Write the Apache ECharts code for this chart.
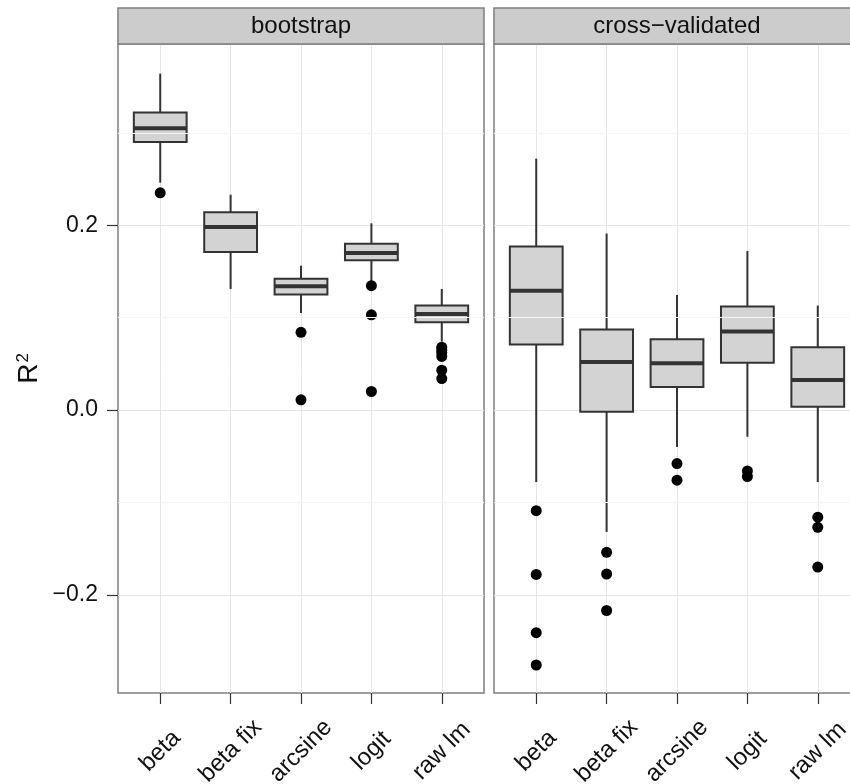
<!DOCTYPE html>
<html>
<head>
<meta charset="utf-8">
<script src="https://cdn.jsdelivr.net/npm/echarts@6/dist/echarts.min.js"></script>
<style>
html,body{margin:0;padding:0;background:#fff;}
#chart{width:850px;height:784px;}
</style>
</head>
<body>
<div id="chart"></div>
<script>
// ---- data ----
const categories = ['beta', 'beta fix', 'arcsine', 'logit', 'raw lm'];
const panelTitles = ['bootstrap', 'cross\u2212validated'];
const yTicks = [-0.2, 0.0, 0.2];
const yMinorTicks = [-0.1, 0.1, 0.3];

// [lower whisker, Q1, median, Q3, upper whisker] per category
const bootstrapStats = [
  [0.246, 0.290, 0.305, 0.322, 0.364],
  [0.131, 0.171, 0.198, 0.214, 0.233],
  [0.105, 0.125, 0.134, 0.142, 0.156],
  [0.139, 0.162, 0.170, 0.180, 0.202],
  [0.074, 0.095, 0.104, 0.113, 0.131]
];
const crossValStats = [
  [-0.078, 0.071, 0.129, 0.177, 0.272],
  [-0.132, -0.002, 0.052, 0.087, 0.191],
  [-0.040, 0.025, 0.0505, 0.0765, 0.1245],
  [-0.029, 0.051, 0.085, 0.112, 0.172],
  [-0.078, 0.0036, 0.0325, 0.068, 0.113]
];
// outliers: [category index, value]
const bootstrapOutliers = [
  [0, 0.235],
  [2, 0.084], [2, 0.011],
  [3, 0.1345], [3, 0.103], [3, 0.020],
  [4, 0.068], [4, 0.065], [4, 0.062], [4, 0.058], [4, 0.043], [4, 0.034]
];
const crossValOutliers = [
  [0, -0.109], [0, -0.178], [0, -0.241], [0, -0.276],
  [1, -0.154], [1, -0.1775], [1, -0.217],
  [2, -0.058], [2, -0.076],
  [3, -0.066], [3, -0.072],
  [4, -0.116], [4, -0.127], [4, -0.170]
];

// ---- chart ----
const FONT = 'Liberation Sans, Arial, sans-serif';
const chart = echarts.init(document.getElementById('chart'));

const gridTop = 44, gridH = 649, gridW = 366;
const gridLefts = [118, 494];

function fmtY(v) {
  const s = (Math.abs(v) < 1e-9 ? 0 : v).toFixed(1);
  return s.replace('-', '\u2212');
}

function makeX(i) {
  return {
    type: 'value', gridIndex: i, min: -0.6, max: 4.6,
    axisLine: { show: false, onZero: false },
    axisTick: { show: true, length: 11, lineStyle: { color: '#333', width: 1.2 }, customValues: [0, 1, 2, 3, 4] },
    axisLabel: {
      customValues: [0, 1, 2, 3, 4],
      formatter: v => categories[Math.round(v)],
      rotate: 45, margin: 58, fontSize: 24, color: '#111', fontFamily: FONT,
      align: 'center', verticalAlign: 'middle'
    },
    splitLine: { show: true, lineStyle: { color: '#e5e5e5', width: 1 } }
  };
}
function makeY(i) {
  return {
    type: 'value', gridIndex: i, min: -0.3063, max: 0.3961,
    axisLine: { show: false, onZero: false },
    axisTick: { show: i === 0, length: 11, lineStyle: { color: '#333', width: 1.2 }, customValues: yTicks },
    axisLabel: {
      show: i === 0, customValues: yTicks, formatter: fmtY,
      margin: 20, fontSize: 23, color: '#111', fontFamily: FONT
    },
    splitLine: { show: true, lineStyle: { color: '#e5e5e5', width: 1 } },
    name: i === 0 ? '{r|R}{s|2}' : '',
    nameLocation: 'middle', nameRotate: 90, nameGap: 75,
    nameTextStyle: {
      rich: {
        r: { fontSize: 28, color: '#111', fontFamily: FONT, verticalAlign: 'bottom' },
        s: { fontSize: 17, color: '#111', fontFamily: FONT, verticalAlign: 'top', padding: [0, 0, 0, 1] }
      }
    }
  };
}

function boxRender(params, api) {
  const x = api.value(0);
  const lo = api.coord([x, api.value(1)]);
  const q1 = api.coord([x, api.value(2)]);
  const md = api.coord([x, api.value(3)]);
  const q3 = api.coord([x, api.value(4)]);
  const hi = api.coord([x, api.value(5)]);
  const hw = api.size([0.75, 0])[0] / 2;
  const stroke = '#333333';
  return {
    type: 'group',
    children: [
      { type: 'line', shape: { x1: hi[0], y1: hi[1], x2: q3[0], y2: q3[1] }, style: { stroke: stroke, lineWidth: 2 } },
      { type: 'line', shape: { x1: q1[0], y1: q1[1], x2: lo[0], y2: lo[1] }, style: { stroke: stroke, lineWidth: 2 } },
      { type: 'rect', shape: { x: q3[0] - hw, y: q3[1], width: 2 * hw, height: q1[1] - q3[1] },
        style: { fill: '#d3d3d3', stroke: stroke, lineWidth: 2 } },
      { type: 'line', shape: { x1: md[0] - hw, y1: md[1], x2: md[0] + hw, y2: md[1] }, style: { stroke: stroke, lineWidth: 4 } }
    ]
  };
}

const statsByPanel = [bootstrapStats, crossValStats];
const outByPanel = [bootstrapOutliers, crossValOutliers];

const series = [];
[0, 1].forEach(i => {
  series.push({
    type: 'line', xAxisIndex: i, yAxisIndex: i, data: [[0, 0]], showSymbol: false,
    lineStyle: { opacity: 0 }, silent: true, z: 1,
    markLine: {
      silent: true, symbol: 'none', label: { show: false },
      lineStyle: { color: '#f5f5f5', width: 1, type: 'solid' },
      data: yMinorTicks.map(v => ({ yAxis: v }))
    }
  });
  series.push({
    type: 'custom', xAxisIndex: i, yAxisIndex: i, z: 3,
    renderItem: boxRender,
    encode: { x: 0, y: [1, 2, 3, 4, 5] },
    data: statsByPanel[i].map((s, k) => [k].concat(s))
  });
  series.push({
    type: 'scatter', xAxisIndex: i, yAxisIndex: i, z: 4,
    symbolSize: 11, itemStyle: { color: '#000', opacity: 1 },
    data: outByPanel[i]
  });
});

const graphics = [];
gridLefts.forEach((l, i) => {
  graphics.push({
    type: 'rect', shape: { x: l, y: 8, width: gridW, height: 36 },
    style: { fill: '#cccccc', stroke: '#7f7f7f', lineWidth: 1.5 }, z: 10
  });
  graphics.push({
    type: 'text', x: l + gridW / 2, y: 26,
    style: { text: panelTitles[i], fontSize: 24, fontFamily: FONT, fill: '#111', align: 'center', verticalAlign: 'middle' },
    z: 11
  });
});

chart.setOption({
  backgroundColor: '#ffffff',
  animation: false,
  grid: gridLefts.map(l => ({
    left: l, top: gridTop, width: gridW, height: gridH,
    outerBoundsMode: 'none', containLabel: false,
    show: true, borderColor: '#7f7f7f', borderWidth: 1.5, backgroundColor: '#ffffff'
  })),
  xAxis: [makeX(0), makeX(1)],
  yAxis: [makeY(0), makeY(1)],
  series: series,
  graphic: graphics
});
</script>
</body>
</html>
